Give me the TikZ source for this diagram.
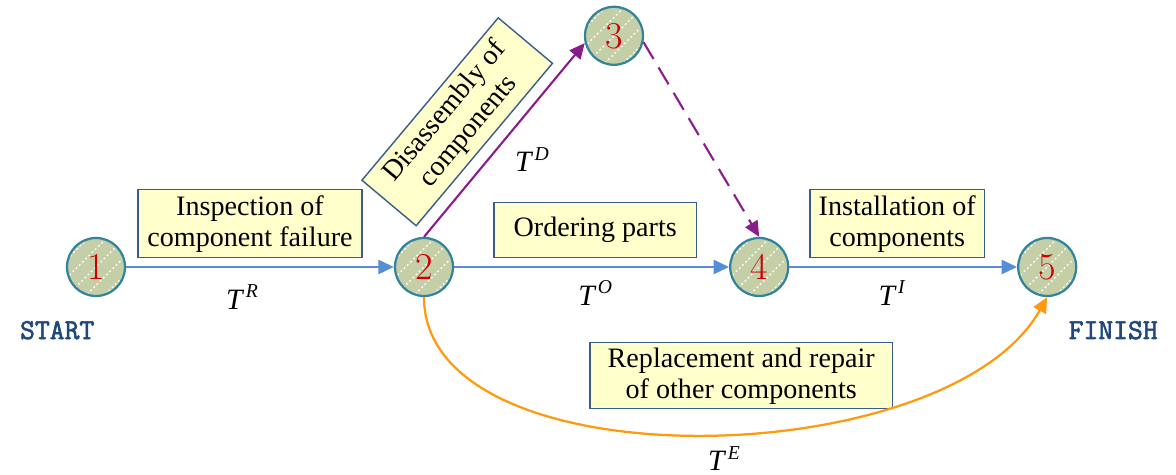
\documentclass[tikz,border=0pt]{standalone}
\usepackage{fontspec}
\setmainfont{Liberation Serif}
\newfontfamily\lmdigits{Latin Modern Roman}
\newfontfamily\endfont{Latin Modern Mono}[FakeBold=2.2]
\definecolor{stagefill}{HTML}{C4CFA8}
\definecolor{stageline}{HTML}{31849B}
\definecolor{stagenum}{HTML}{CC0000}
\definecolor{boxfill}{HTML}{FFFFCC}
\definecolor{boxline}{HTML}{385D8A}
\definecolor{flowblue}{HTML}{558ED5}
\definecolor{flowpurple}{HTML}{8B1C8B}
\definecolor{floworange}{HTML}{FF9A0E}
\definecolor{endtext}{HTML}{1F497D}
\usetikzlibrary{arrows.meta, positioning, calc}

% duration symbol with raised index
\newcommand{\tvar}[1]{\textit{T}\kern1pt\raisebox{0.38em}{\fontsize{14}{14}\selectfont\textit{#1}}}

\begin{document}
\begin{tikzpicture}[
  stage/.style={circle, fill=stagefill, draw=stageline, line width=1.6pt,
                minimum size=1.45cm, inner sep=0pt, text=stagenum,
                font=\lmdigits\fontsize{27}{27}\selectfont,
                path picture={
                  \foreach \k in {-3,...,3}
                    \draw[white!85!pink, line width=1pt, dash pattern=on 1.4pt off 1.8pt]
                      ([xshift=\k*0.46cm]path picture bounding box.center) ++(-1,-1) -- ++(2,2);
                }},
  task/.style={rectangle, fill=boxfill, draw=boxline, line width=1pt, align=center,
               inner sep=2pt, font=\fontsize{20}{22}\selectfont},
  dur/.style={font=\fontsize{21}{24}\selectfont, inner sep=0pt},
  endlabel/.style={text=endtext, font=\endfont\fontsize{20.5}{22}\selectfont},
  flow/.style={-{Triangle[length=11pt, width=10pt]}, flowblue, line width=1.6pt},
  branch/.style={-{Triangle[length=11pt, width=10pt]}, flowpurple, line width=1.5pt}
]
  \useasboundingbox (0,0) rectangle (29.4,11.875);

  \node[stage] (n1) at (2.40, 5.20) {1};
  \node[stage] (n2) at (10.60, 5.20) {2};
  \node[stage] (n3) at (15.35, 10.98) {3};
  \node[stage] (n4) at (18.98, 5.20) {4};
  \node[stage] (n5) at (26.18, 5.20) {5};

  \node[endlabel] (start) at (1.43, 3.62) {START};
  \node[endlabel] (finish) at (27.83, 3.62) {FINISH};

  \node[task, minimum width=5.6cm, minimum height=1.7cm] (insp) at (6.25, 6.28)
    {Inspection of\\component failure};
  \node[task, minimum width=5.07cm, minimum height=1.37cm] (order) at (14.88, 6.12)
    {Ordering parts};
  \node[task, minimum width=4.37cm, minimum height=1.7cm] (inst) at (22.43, 6.28)
    {Installation of\\components};
  \node[task, minimum width=7.57cm, minimum height=1.65cm] (repl) at (18.53, 2.48)
    {Replacement and repair\\of other components};
  \node[task, minimum width=5.3cm, minimum height=1.77cm, rotate=50] (disasm) at (11.43, 8.83)
    {Disassembly of\\components};

  \draw[flow] (n1) -- (n2);
  \draw[flow] (n2) -- (n4);
  \draw[flow] (n4) -- (n5);
  \draw[branch] (n2.north) -- (n3.194);
  \draw[branch, dash pattern=on 14pt off 7pt] (n3.-12) -- (n4.north);
  \draw[-{Triangle[length=11pt, width=10pt]}, floworange, line width=1.6pt]
    (n2.south) .. controls (10.6,-0.25) and (23.68,0.0) .. (n5.south);

  \node[dur] (tr) at (6.05, 4.45) {\tvar{R}};
  \node[dur] (to) at (14.88, 4.55) {\tvar{O}};
  \node[dur] (td) at (13.30, 7.88) {\tvar{D}};
  \node[dur] (ti) at (22.30, 4.55) {\tvar{I}};
  \node[dur] (te) at (18.10, 0.42) {\tvar{E}};
\end{tikzpicture}
\end{document}
